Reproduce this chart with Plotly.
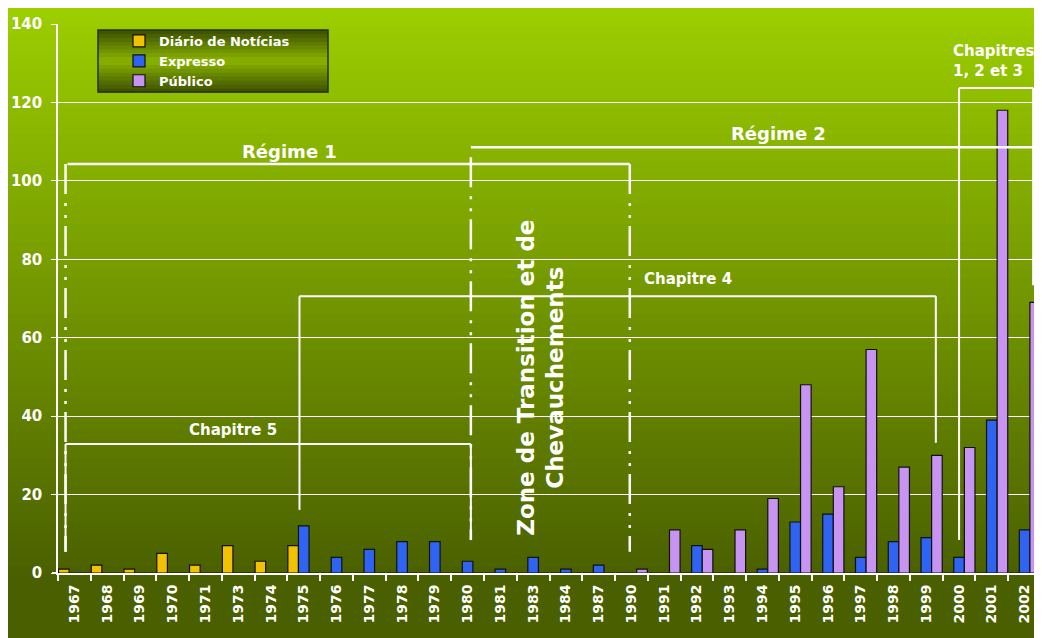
import plotly.graph_objects as go

# --- data --------------------------------------------------------------------
years = ["1967", "1968", "1969", "1970", "1971", "1973", "1974", "1975", "1976",
         "1977", "1978", "1979", "1980", "1981", "1983", "1984", "1987", "1990",
         "1991", "1992", "1993", "1994", "1995", "1996", "1997", "1998", "1999",
         "2000", "2001", "2002"]
diario = [1, 2, 1, 5, 2, 7, 3, 7, 0, 0, 0, 0, 0, 0, 0, 0, 0, 0,
          0, 0, 0, 0, 0, 0, 0, 0, 0, 0, 0, 0]
expresso = [0, 0, 0, 0, 0, 0, 0, 12, 4, 6, 8, 8, 3, 1, 4, 1, 2, 0,
            0, 7, 0, 1, 13, 15, 4, 8, 9, 4, 39, 11]
publico = [0, 0, 0, 0, 0, 0, 0, 0, 0, 0, 0, 0, 0, 0, 0, 0, 0, 1,
           11, 6, 11, 19, 48, 22, 57, 27, 30, 32, 118, 69]

FONT = "DejaVu Sans"
# the page adds an 8px body margin, so the figure fills the rest of the window
W, H = 1034, 630
ML, MR, MT, MB = 50, 1, 16, 65
OFF = 8  # page offset of the figure


def mix(c0, c1, t):
    return "rgb(%d,%d,%d)" % tuple(int(a + (b - a) * t) for a, b in zip(c0, c1))


# helpers take positions measured on the page (window pixels)
def py_to_paper(py):
    return (H - MB - (py - OFF)) / (H - MT - MB)


def px_to_paper(px):
    return (px - OFF - ML) / (W - ML - MR)


fig = go.Figure()
series = [("Diário de Notícias", diario, "#f2c200"),
          ("Expresso", expresso, "#2f63f2"),
          ("Público", publico, "#c794f2")]
for name, vals, col in series:
    fig.add_trace(go.Bar(
        x=years, y=vals, name=name,
        marker=dict(color=col, line=dict(color="#111", width=1.2)),
    ))

shapes = []

# green vertical gradient behind everything
top_c, bot_c = (156, 206, 0), (74, 96, 0)
n = 70
for i in range(n):
    a = OFF + (H) * i / n
    b = OFF + (H) * (i + 1) / n
    t = min(1.0, max(0.0, (a - 8) / (575 - 8)))
    shapes.append(dict(type="rect", xref="paper", yref="paper", layer="below",
                       x0=px_to_paper(0), x1=px_to_paper(W + 20),
                       y0=py_to_paper(b + 0.6), y1=py_to_paper(a),
                       fillcolor=mix(top_c, bot_c, t), line=dict(width=0)))

# legend box with a dark-light-dark band
lx0, lx1, ly0, ly1 = 98, 328, 30, 92
m = 16
for i in range(m):
    a = ly0 + (ly1 - ly0) * i / m
    b = ly0 + (ly1 - ly0) * (i + 1) / m
    t = 1 - abs((i + 0.5) / m - 0.5) * 2
    shapes.append(dict(type="rect", xref="paper", yref="paper", layer="above",
                       x0=px_to_paper(lx0), x1=px_to_paper(lx1),
                       y0=py_to_paper(b + 0.5), y1=py_to_paper(a),
                       fillcolor=mix((60, 78, 0), (138, 180, 0), t), line=dict(width=0)))
shapes.append(dict(type="rect", xref="paper", yref="paper", layer="above",
                   x0=px_to_paper(lx0), x1=px_to_paper(lx1),
                   y0=py_to_paper(ly1), y1=py_to_paper(ly0),
                   line=dict(color="#263000", width=1.5)))

# x axis line pokes a little to the left of the y axis
shapes.append(dict(type="line", xref="paper", yref="paper", layer="above",
                   x0=px_to_paper(52), x1=0, y0=0, y1=0,
                   line=dict(color="white", width=2)))

DASHDOT = "30px,9px,3px,9px,3px,8px"


def seg(x0, y0, x1, y1, width=2, dash="solid"):
    shapes.append(dict(type="line", xref="x", yref="y", layer="above",
                       x0=x0, y0=y0, x1=x1, y1=y1,
                       line=dict(color="white", width=width, dash=dash)))


# Régime 1
seg(-0.21, 104.3, 16.95, 104.3, 2.5)
seg(-0.27, 104.3, -0.27, 5.4, 2.5, DASHDOT)
seg(16.95, 104.3, 16.95, 5.4, 2.5, DASHDOT)
# Régime 2
seg(12.1, 108.6, 29.41, 108.6, 2.5)
seg(12.1, 106.0, 12.1, 8.4, 2.5, DASHDOT)
seg(29.41, 108.6, 29.41, 67.0, 2.5, DASHDOT)
# Chapitre 5
seg(-0.27, 32.9, 12.1, 32.9, 2)
seg(-0.27, 32.9, -0.27, 5.4, 2)
seg(12.1, 32.9, 12.1, 8.4, 2)
# Chapitre 4
seg(6.87, 70.6, 26.29, 70.6, 2)
seg(6.87, 70.6, 6.87, 16.1, 2)
seg(26.29, 70.6, 26.29, 33.2, 2)
# Chapitres 1, 2 et 3
seg(27.0, 123.7, 29.26, 123.7, 2)
seg(27.0, 123.7, 27.0, 8.4, 2)
seg(29.26, 123.7, 29.26, 73.4, 2)

bold = dict(family=FONT, color="white", weight="bold")
annotations = [
    dict(x=6.57, y=107.4, text="Régime 1", font=dict(size=18, **bold)),
    dict(x=21.5, y=112.0, text="Régime 2", font=dict(size=18, **bold)),
    dict(x=18.72, y=75.0, text="Chapitre 4", font=dict(size=15, **bold)),
    dict(x=4.83, y=36.5, text="Chapitre 5", font=dict(size=15, **bold)),
    dict(x=26.76, y=130.6, text="Chapitres<br>1, 2 et 3", xanchor="left",
         align="left", font=dict(size=15, **bold)),
    dict(x=14.23, y=49.7, text="Zone de Transition et de<br>Chevauchements",
         textangle=-90, font=dict(size=23, **bold)),
]
for a in annotations:
    a.update(xref="x", yref="y", showarrow=False)

fig.update_layout(
    width=W, height=H,
    margin=dict(l=ML, r=MR, t=MT, b=MB, pad=0),
    paper_bgcolor="white",
    plot_bgcolor="rgba(0,0,0,0)",
    barmode="group", bargap=0.03, bargroupgap=0,
    shapes=shapes, annotations=annotations,
    showlegend=True,
    legend=dict(x=px_to_paper(119), y=py_to_paper(26), xanchor="left", yanchor="top",
                bgcolor="rgba(0,0,0,0)", borderwidth=0, tracegroupgap=0,
                font=dict(size=13, **bold)),
    xaxis=dict(type="category", tickangle=-90, tickson="boundaries",
               ticks="outside", ticklen=6, tickcolor="white", tickwidth=1.5,
               showline=True, linecolor="white", linewidth=2, showgrid=False,
               tickfont=dict(size=14, **bold), ticklabelstandoff=4),
    yaxis=dict(range=[0, 140], dtick=20, showgrid=True, gridcolor="white",
               gridwidth=1, showline=True, linecolor="white", linewidth=1.5,
               ticks="outside", ticklen=5, tickcolor="white", zeroline=False,
               tickfont=dict(size=15, **bold), ticklabelstandoff=6),
)

fig.write_html("out.html")
